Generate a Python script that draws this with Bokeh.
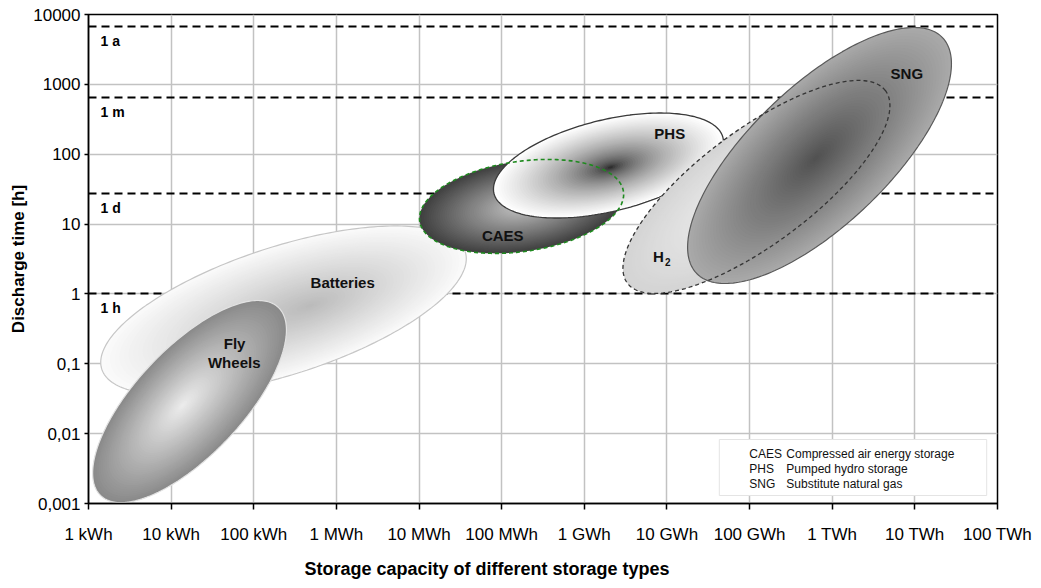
import numpy as np
from bokeh.plotting import figure
from bokeh.models import FixedTicker, CustomJSTickFormatter, Title, Range1d
from bokeh.core.properties import value
from bokeh.embed import file_html
from bokeh.resources import INLINE

# ---------------- data ----------------
x_ticks = [1e0, 1e1, 1e2, 1e3, 1e4, 1e5, 1e6, 1e7, 1e8, 1e9, 1e10, 1e11]
x_tick_labels = ["1 kWh", "10 kWh", "100 kWh", "1 MWh", "10 MWh", "100 MWh",
                 "1 GWh", "10 GWh", "100 GWh", "1 TWh", "10 TWh", "100 TWh"]
y_ticks = [1e-3, 1e-2, 1e-1, 1e0, 1e1, 1e2, 1e3, 1e4]
y_tick_labels = ["0,001", "0,01", "0,1", "1", "10", "100", "1000", "10000"]

period_levels = [6700, 640, 27, 1]          # hours
period_labels = ["1 a", "1 m", "1 d", "1 h"]

tech_names = ["Batteries", "Fly Wheels", "CAES", "PHS", "H2", "SNG"]
center_kwh = [229, 16.7, 1.74e5, 1.96e6, 1.21e8, 7.02e8]
center_h = [0.579, 0.0288, 17.9, 68.9, 34.0, 95.9]
semi_major_dec = [2.311, 1.566, 1.246, 1.426, 1.948, 2.061]   # in energy decades
semi_minor_dec = [0.774, 0.647, 0.545, 0.554, 0.690, 0.837]
tilt_deg = [17.9, 46.7, 8.3, 13.7, 36.7, 43.8]
focus_kwh = [486, 13.7, 1.74e5, 2.07e6, 1.21e8, 6.28e8]
focus_h = [0.68, 0.0253, 17.9, 64.6, 34.0, 86.9]

label_text = ["Batteries", "Fly", "Wheels", "CAES", "PHS", "SNG", "H"]
label_kwh = [1190, 58.6, 58.0, 1.03e5, 1.08e7, 8.0e9, 7.9e6]
label_h = [1.47, 0.196, 0.105, 6.9, 199, 1430, 3.43]
sub_text = ["2"]
sub_kwh = [1.02e7]
sub_h = [2.85]

legend_abbr = ["CAES", "PHS", "SNG"]
legend_desc = ["Compressed air energy storage", "Pumped hydro storage", "Substitute natural gas"]

# ---------------- styles ----------------
FONT = "Liberation Sans"
FRAME_W, FRAME_H = 909, 489
PX_X = FRAME_W / 11.0
PX_Y = FRAME_H / 7.0

outer_colors = ["#fafafa", "#8a8a8a", "#404040", "#ffffff", "#d4d4d4", "#a9a9a9"]
inner_colors = ["#bababa", "#ededed", "#c6c6c6", "#111111", "#f3f3f3", "#505050"]
gammas = [1.0, 1.0, 1.0, 0.55, 1.0, 1.0]
line_colors = ["#c6c6c6", "#e2e2e2", "#1f8a1f", "#3a3a3a", "#333333", "#5a5a5a"]
line_dashes = ["solid", "solid", "4 3", "solid", "4 3", "solid"]
line_widths = [1.2, 1.2, 1.6, 1.3, 1.3, 1.2]
N_LAYERS = 45


def hex2rgb(h):
    h = h.lstrip("#")
    return np.array([int(h[i:i + 2], 16) for i in (0, 2, 4)], dtype=float)


def mix(c_in, c_out, f):
    c = hex2rgb(c_in) * (1 - f) + hex2rgb(c_out) * f
    return "#%02x%02x%02x" % tuple(int(round(v)) for v in c)


def ellipse_pts(i, s=1.0):
    t = np.linspace(0, 2 * np.pi, 240)
    th = np.radians(tilt_deg[i])
    a, b = semi_major_dec[i] * s, semi_minor_dec[i] * s
    lcx, lcy = np.log10(center_kwh[i]), np.log10(center_h[i])
    lfx, lfy = np.log10(focus_kwh[i]), np.log10(focus_h[i])
    cx = lfx + (lcx - lfx) * s
    cy = lfy + (lcy - lfy) * s
    dx = a * np.cos(t) * np.cos(th) - b * np.sin(t) * np.sin(th)
    dy = a * np.cos(t) * np.sin(th) + b * np.sin(t) * np.cos(th)
    lx = cx + dx
    ly = cy + dy * (PX_X / PX_Y)
    return list(10 ** lx), list(10 ** ly)


p = figure(frame_width=FRAME_W, frame_height=FRAME_H,
           x_axis_type="log", y_axis_type="log",
           x_range=Range1d(1, 1e11), y_range=Range1d(1e-3, 1e4),
           output_backend="svg", toolbar_location=None,
           min_border_left=88, min_border_right=44, min_border_top=14, min_border_bottom=85,
           background_fill_color="white", border_fill_color="white")

p.outline_line_color = "black"
p.outline_line_width = 1.5

p.xaxis.ticker = FixedTicker(ticks=x_ticks)
p.yaxis.ticker = FixedTicker(ticks=y_ticks)
p.xaxis.formatter = CustomJSTickFormatter(args=dict(labels=x_tick_labels),
                                          code="return labels[Math.round(Math.log10(tick))];")
p.yaxis.formatter = CustomJSTickFormatter(args=dict(labels=y_tick_labels),
                                          code="return labels[Math.round(Math.log10(tick)) + 3];")
for ax in (p.xaxis[0], p.yaxis[0]):
    ax.axis_line_color = "black"
    ax.axis_line_width = 1.5
    ax.major_tick_line_color = "black"
    ax.major_tick_line_width = 1.5
    ax.major_tick_in = 0
    ax.minor_tick_line_color = None
    ax.major_label_text_font = FONT
    ax.major_label_text_font_size = "17px"
    ax.major_label_text_color = "black"
p.xaxis.major_tick_out = 6
p.xaxis.major_label_standoff = 15
p.yaxis.major_tick_out = 4
p.yaxis.major_label_standoff = 4

p.yaxis.axis_label = "Discharge time [h]"
p.yaxis.axis_label_text_font = FONT
p.yaxis.axis_label_text_font_size = "17px"
p.yaxis.axis_label_text_font_style = "bold"
p.yaxis.axis_label_text_color = "black"
p.yaxis.axis_label_standoff = 2

p.xgrid.grid_line_color = "#c2c2c2"
p.ygrid.grid_line_color = "#c2c2c2"
p.xgrid.grid_line_width = 1.5
p.ygrid.grid_line_width = 1.5

xt = Title(text="Storage capacity of different storage types", align="left", offset=216,
           text_font=FONT, text_font_size="18px", text_font_style="bold", text_color="black",
           standoff=21)
p.add_layout(xt, "below")

# period lines
p.hspan(y=period_levels, line_color="black", line_width=2, line_dash="8 5")
p.text(x=[1] * len(period_levels), y=period_levels, text=period_labels,
       x_offset=12, y_offset=14, text_font=value(FONT), text_font_style="bold",
       text_font_size="14px", text_align="left", text_baseline="middle", text_color="black")


def draw_fill(i):
    xs, ys, cs = [], [], []
    for k in range(N_LAYERS):
        s = 1.0 - k / N_LAYERS
        x, y = ellipse_pts(i, s)
        xs.append(x)
        ys.append(y)
        cs.append(mix(inner_colors[i], outer_colors[i], s ** gammas[i]))
    p.patches(xs=xs, ys=ys, fill_color=cs, line_color=None)


def draw_outline(i):
    x, y = ellipse_pts(i)
    x.append(x[0])
    y.append(y[0])
    p.line(x=x, y=y, line_color=line_colors[i], line_width=line_widths[i], line_dash=line_dashes[i])


# Batteries, Fly Wheels
draw_fill(0); draw_outline(0)
draw_fill(1); draw_outline(1)
# CAES fill, PHS, CAES outline
draw_fill(2)
draw_fill(3); draw_outline(3)
draw_outline(2)
# H2 fill, SNG, H2 outline
draw_fill(4)
draw_fill(5); draw_outline(5)
draw_outline(4)

# labels
p.text(x=label_kwh, y=label_h, text=label_text, text_font=value(FONT), text_font_style="bold",
       text_font_size="15px", text_align="center", text_baseline="middle", text_color="#111111")
p.text(x=sub_kwh, y=sub_h, text=sub_text, text_font=value(FONT), text_font_style="bold",
       text_font_size="10px", text_align="center", text_baseline="middle", text_color="#111111")

# legend box
LEG_LEFT, LEG_RIGHT, LEG_TOP, LEG_BOTTOM = 4.3e7, 7.4e10, 0.00824, 0.0013
p.quad(left=[LEG_LEFT], right=[LEG_RIGHT], top=[LEG_TOP], bottom=[LEG_BOTTOM],
       fill_color="white", fill_alpha=1.0, line_color="#e4e4e4", line_width=1)
n = len(legend_abbr)
p.text(x=[LEG_LEFT] * n, y=[LEG_TOP] * n, text=legend_abbr, x_offset=30,
       y_offset=[14 + 15 * k for k in range(n)], text_font=value(FONT), text_font_size="12px",
       text_align="left", text_baseline="middle", text_color="#111111")
p.text(x=[LEG_LEFT] * n, y=[LEG_TOP] * n, text=legend_desc, x_offset=67,
       y_offset=[14 + 15 * k for k in range(n)], text_font=value(FONT), text_font_size="12px",
       text_align="left", text_baseline="middle", text_color="#111111")

open("out.html", "w").write(file_html(p, INLINE))
